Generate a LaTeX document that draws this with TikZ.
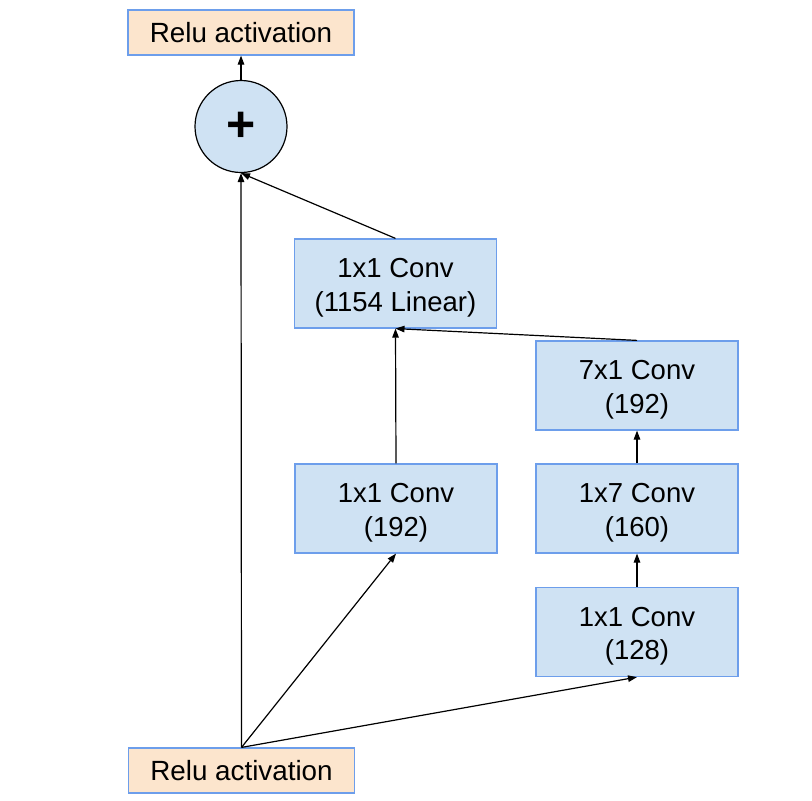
\documentclass[tikz,border=0pt]{standalone}
\usepackage{fontspec}
\setmainfont{Liberation Sans}
\usetikzlibrary{arrows.meta}
\definecolor{boxblue}{HTML}{CFE2F3}
\definecolor{edgeblue}{HTML}{6D9EEB}
\definecolor{boxorange}{HTML}{FCE5CD}
\begin{document}
\begin{tikzpicture}[x=1pt,y=-1pt,
  convbox/.style={draw=edgeblue,fill=boxblue,line width=1.2pt,minimum width=202pt,minimum height=89pt,inner sep=0pt},
  convtext/.style={align=center,inner sep=0pt,yshift=-4pt,font=\fontsize{27.5}{33.5}\selectfont},
  relubox/.style={draw=edgeblue,fill=boxorange,line width=1.2pt,minimum width=226pt,minimum height=45pt,inner sep=0pt,font=\fontsize{27.8}{33}\selectfont},
  sumnode/.style={circle,draw=black,fill=boxblue,line width=1.2pt,minimum size=92pt,inner sep=0pt},
  conn/.style={line width=1.2pt,-{Triangle[length=9pt,width=6.5pt]}}]
\useasboundingbox (0,0) rectangle (812,801);
\node[relubox] (top) at (241,32.5) {Relu activation};
\node[sumnode] (sum) at (241,126.5) {};
\node (plus) at (241,126.5) {\fontsize{50}{50}\selectfont\bfseries +};
\node[convbox,label={[convtext]center:{1x1 Conv\\(1154 Linear)}}] (lin) at (395.5,283.5) {};
\node[convbox,label={[convtext]center:{7x1 Conv\\(192)}}] (c71) at (637,385.5) {};
\node[convbox,label={[convtext]center:{1x1 Conv\\(192)}}] (c192) at (396,508.5) {};
\node[convbox,label={[convtext]center:{1x7 Conv\\(160)}}] (c17) at (637,508.5) {};
\node[convbox,label={[convtext]center:{1x1 Conv\\(128)}}] (c128) at (637,632) {};
\node[relubox] (bot) at (241.5,770.5) {Relu activation};
\draw[conn] (bot.north) -- (sum.south);
\draw[conn] (bot.north) -- (c192.south);
\draw[conn] (bot.north) -- (c128.south);
\draw[conn] (c128.north) -- (c17.south);
\draw[conn] (c17.north) -- (c71.south);
\draw[conn] (c71.north) -- (lin.south);
\draw[conn] (c192.north) -- (lin.south);
\draw[conn] (lin.north) -- (sum.south);
\draw[conn] (sum.north) -- (top.south);
\end{tikzpicture}
\end{document}
